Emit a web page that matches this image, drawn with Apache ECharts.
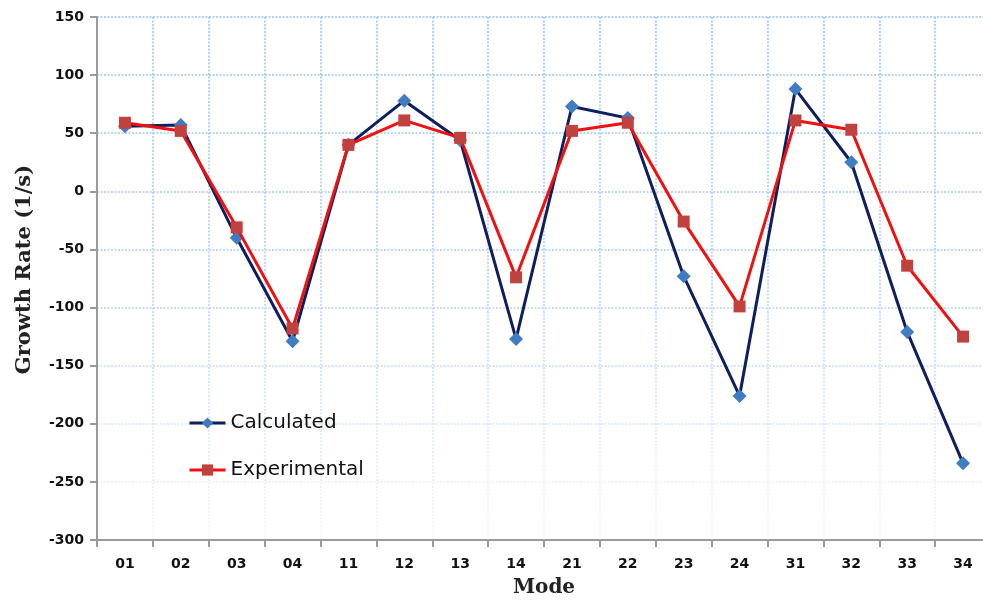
<!DOCTYPE html>
<html>
<head>
<meta charset="utf-8">
<script src="https://cdn.jsdelivr.net/npm/echarts@6/dist/echarts.min.js"></script>
<style>
  html, body { margin: 0; padding: 0; background: #fff; }
  #chart { width: 983px; height: 601px; }
</style>
</head>
<body>
<div id="chart"></div>
<script>
// Vibration modes and growth rates (1/s)
const modes = ['01', '02', '03', '04', '11', '12', '13', '14', '21', '22', '23', '24', '31', '32', '33', '34'];
const calculated = [56, 57, -40, -129, 40, 78, 44, -127, 73, 63, -73, -176, 88, 25, -121, -234];
const experimental = [59, 52, -31, -118, 40, 61, 46, -74, 52, 59, -26, -99, 61, 53, -64, -125];
const yTicks = { min: -300, max: 150, step: 50 };

// Dotted grid that fades out towards the bottom of the plot
const gridFade = new echarts.graphic.LinearGradient(0, 17, 0, 540, [
  { offset: 0, color: '#96c1f6' },
  { offset: 0.5, color: '#aecef7' },
  { offset: 0.8, color: '#d9e7f9' },
  { offset: 1, color: '#f7f3fb' }
], true);
const gridLine = { show: true, lineStyle: { color: gridFade, type: [2, 1.5], width: 1.5 } };
const tickFont = { fontFamily: 'DejaVu Sans', fontWeight: 'bold', fontSize: 14, color: '#111' };

const chart = echarts.init(document.getElementById('chart'));
chart.setOption({
  animation: false,
  backgroundColor: '#fff',
  grid: { left: 97, right: -8, top: 17, bottom: 61, containLabel: false, outerBoundsMode: 'none' },
  legend: {
    orient: 'vertical',
    left: 183,
    top: 408,
    itemWidth: 36,
    itemHeight: 14,
    itemGap: 27,
    lineStyle: { width: 3 },
    textStyle: { fontFamily: 'DejaVu Sans', fontSize: 20, color: '#111' },
    data: ['Calculated', 'Experimental']
  },
  xAxis: {
    type: 'category',
    data: modes,
    boundaryGap: true,
    name: 'Mode',
    nameLocation: 'middle',
    nameGap: 38,
    nameTextStyle: { fontFamily: 'DejaVu Serif', fontWeight: 'bold', fontSize: 20, color: '#222' },
    axisLine: { onZero: false, lineStyle: { color: '#9a9a9a', width: 2 } },
    axisTick: { show: true, length: 7, lineStyle: { color: '#9a9a9a', width: 2 } },
    axisLabel: Object.assign({ margin: 17 }, tickFont),
    splitLine: gridLine
  },
  yAxis: {
    type: 'value',
    min: yTicks.min,
    max: yTicks.max,
    interval: yTicks.step,
    name: 'Growth Rate (1/s)',
    nameLocation: 'middle',
    nameGap: 62,
    nameTextStyle: { fontFamily: 'DejaVu Serif', fontWeight: 'bold', fontSize: 21, color: '#222', padding: [0, 0, 0, 18] },
    axisLine: { show: true, lineStyle: { color: '#9a9a9a', width: 2 } },
    axisTick: { show: true, length: 7, lineStyle: { color: '#9a9a9a', width: 2 } },
    axisLabel: Object.assign({ margin: 13 }, tickFont),
    splitLine: gridLine
  },
  series: [
    {
      name: 'Calculated',
      type: 'line',
      data: calculated,
      symbol: 'diamond',
      symbolSize: 14,
      lineStyle: { color: '#0f1f5c', width: 3 },
      itemStyle: { color: '#3f7cc4' },
      z: 2
    },
    {
      name: 'Experimental',
      type: 'line',
      data: experimental,
      symbol: 'rect',
      symbolSize: 12,
      lineStyle: { color: '#f01010', width: 3 },
      itemStyle: { color: '#c0423e' },
      z: 3
    }
  ]
});
</script>
</body>
</html>
